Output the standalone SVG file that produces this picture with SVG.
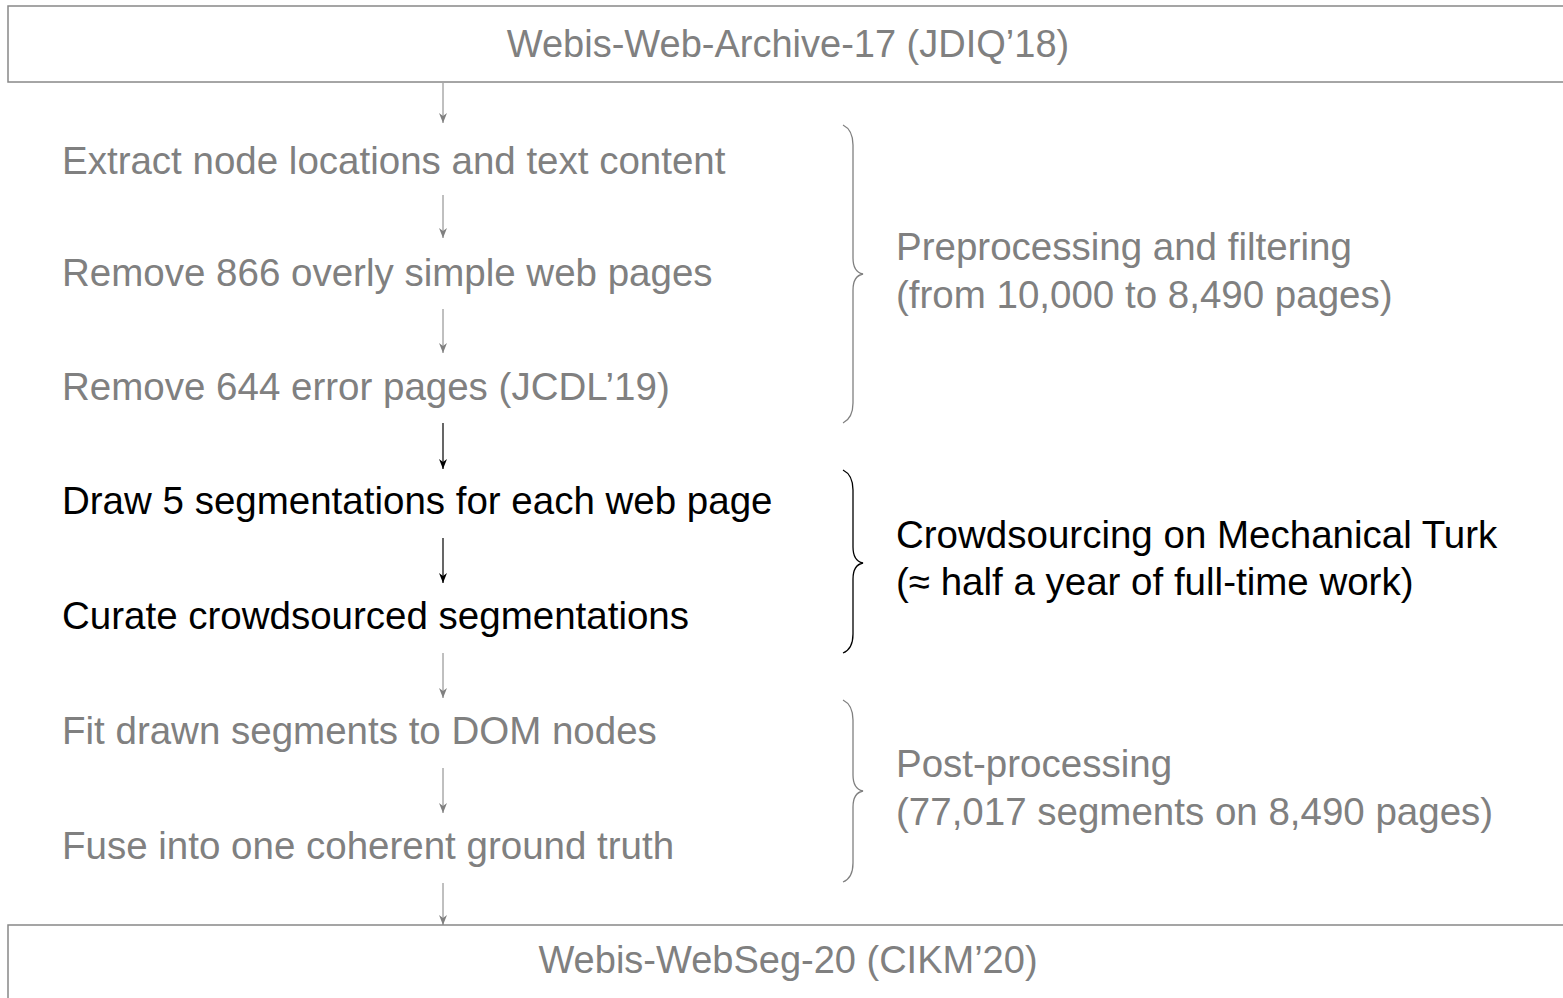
<svg xmlns="http://www.w3.org/2000/svg" width="1563" height="998" viewBox="0 0 1563 998">
<defs>
<style>
text{font-family:"Liberation Sans",Arial,Helvetica,sans-serif;font-size:38.5px}
.t{font-size:38px}
.g{fill:#808080}
.k{fill:#000}
.box{fill:#fff;stroke:#888;stroke-width:1.5}
.ag{stroke:#808080;stroke-width:1;fill:none}
.ak{stroke:#000;stroke-width:1.2;fill:none}
.bg{stroke:#808080;stroke-width:1.3;fill:none}
.bk{stroke:#000;stroke-width:1.3;fill:none}
</style>
<marker id="mg" markerWidth="10" markerHeight="8" refX="10" refY="4" orient="auto" markerUnits="userSpaceOnUse" viewBox="0 0 10 8">
<path d="M0,0 L10,4 L0,8 L3,4 Z" fill="#808080"/>
</marker>
<marker id="mk" markerWidth="10" markerHeight="8" refX="10" refY="4" orient="auto" markerUnits="userSpaceOnUse" viewBox="0 0 10 8">
<path d="M0,0 L10,4 L0,8 L3,4 Z" fill="#000"/>
</marker>
</defs>

<g id="top">
<rect class="box" x="8" y="6" width="1570" height="76"/>
<text class="g t" x="788" y="57" text-anchor="middle">Webis-Web-Archive-17 (JDIQ’18)</text>
</g>

<g id="s1"><text class="g" x="62" y="174">Extract node locations and text content</text></g>
<g id="s2"><text class="g" x="62" y="286">Remove 866 overly simple web pages</text></g>
<g id="s3"><text class="g" x="62" y="400">Remove 644 error pages (JCDL’19)</text></g>
<g id="s4"><text class="k" x="62" y="514">Draw 5 segmentations for each web page</text></g>
<g id="s5"><text class="k" x="62" y="629">Curate crowdsourced segmentations</text></g>
<g id="s6"><text class="g" x="62" y="744">Fit drawn segments to DOM nodes</text></g>
<g id="s7"><text class="g" x="62" y="859">Fuse into one coherent ground truth</text></g>

<g id="bottom">
<rect class="box" x="8" y="925" width="1570" height="90"/>
<text class="g t" x="788" y="973" text-anchor="middle">Webis-WebSeg-20 (CIKM’20)</text>
</g>

<g id="connectors">
<line class="ag" x1="443" y1="83" x2="443" y2="123" marker-end="url(#mg)"/>
<line class="ag" x1="443" y1="195" x2="443" y2="238" marker-end="url(#mg)"/>
<line class="ag" x1="443" y1="309" x2="443" y2="353" marker-end="url(#mg)"/>
<line class="ak" x1="443" y1="423" x2="443" y2="469" marker-end="url(#mk)"/>
<line class="ak" x1="443" y1="538" x2="443" y2="583" marker-end="url(#mk)"/>
<line class="ag" x1="443" y1="653" x2="443" y2="698" marker-end="url(#mg)"/>
<line class="ag" x1="443" y1="768" x2="443" y2="813" marker-end="url(#mg)"/>
<line class="ag" x1="443" y1="883" x2="443" y2="925" marker-end="url(#mg)"/>
</g>

<g id="brace1">
<path class="bg" d="M843,125 Q853,130 853,145 L853,258 Q853,272 863,274 Q853,276 853,290 L853,403 Q853,418 843,423"/>
<text class="g" x="896" y="260">Preprocessing and filtering</text>
<text class="g" x="896" y="308">(from 10,000 to 8,490 pages)</text>
</g>
<g id="brace2">
<path class="bk" d="M843,470 Q853,475 853,490 L853,547 Q853,561 863,563 Q853,565 853,579 L853,634 Q853,649 843,653"/>
<text class="k" x="896" y="548">Crowdsourcing on Mechanical Turk</text>
<text class="k" x="896" y="595">(≈ half a year of full-time work)</text>
</g>
<g id="brace3">
<path class="bg" d="M843,700 Q853,705 853,720 L853,775 Q853,789 863,791 Q853,793 853,807 L853,863 Q853,878 843,882"/>
<text class="g" x="896" y="777">Post-processing</text>
<text class="g" x="896" y="825">(77,017 segments on 8,490 pages)</text>
</g>
</svg>
